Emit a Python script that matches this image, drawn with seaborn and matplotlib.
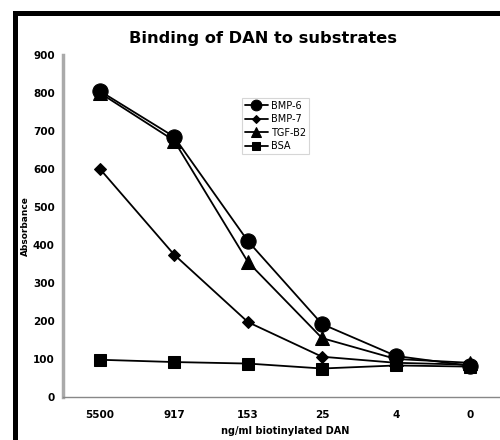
import matplotlib
matplotlib.use("Agg")
import matplotlib.pyplot as plt
import seaborn as sns
import pandas as pd
from matplotlib.patches import Rectangle

concentrations = ["5500", "917", "153", "25", "4", "0"]
bmp6 = [805, 685, 410, 192, 108, 82]
bmp7 = [600, 375, 197, 106, 90, 85]
tgfb2 = [800, 675, 355, 155, 100, 90]
bsa = [98, 92, 88, 75, 83, 80]
series_names = ["BMP-6", "BMP-7", "TGF-B2", "BSA"]
y_ticks = [0, 100, 200, 300, 400, 500, 600, 700, 800, 900]

rows = []
for name, vals in zip(series_names, [bmp6, bmp7, tgfb2, bsa]):
    for c, v in zip(concentrations, vals):
        rows.append({"conc": c, "value": v, "series": name})
df = pd.DataFrame(rows)

sns.set_style("white")
plt.rcParams['font.family'] = ['DejaVu Sans']
plt.rcParams['text.color'] = 'black'
plt.rcParams['axes.labelcolor'] = 'black'
plt.rcParams['xtick.color'] = 'black'
plt.rcParams['ytick.color'] = 'black'

fig = plt.figure(figsize=(5, 4.4), dpi=100)
ax = fig.add_axes([63/500, 1 - 397/440, (507-63)/500, (397-55)/440])

markers = {"BMP-6": "o", "BMP-7": "D", "TGF-B2": "^", "BSA": "s"}
sizes = {"BMP-6": 11, "BMP-7": 6, "TGF-B2": 10, "BSA": 9}
zorders = {"BMP-6": 6, "BMP-7": 4, "TGF-B2": 5, "BSA": 3}
for name in series_names:
    sub = df[df["series"] == name]
    sns.lineplot(data=sub, x="conc", y="value", ax=ax, color="black",
                 marker=markers[name], markersize=sizes[name], linewidth=1.3,
                 markeredgecolor="black", label=name, sort=False,
                 zorder=zorders[name])

ax.set_xlim(-0.5, 5.5)
ax.set_ylim(0, 900)
ax.set_yticks(y_ticks)
ax.set_yticklabels([str(t) for t in y_ticks], fontsize=7.5, fontweight="bold")
ax.set_xticks(range(len(concentrations)))
ax.set_xticklabels(concentrations, fontsize=7.5, fontweight="bold")
ax.tick_params(axis="x", length=0, pad=9)
ax.tick_params(axis="y", length=0, pad=6)
ax.set_xlabel("ng/ml biotinylated DAN", fontsize=7, fontweight="bold", labelpad=5)
ax.set_ylabel("Absorbance", fontsize=6.5, fontweight="bold", labelpad=2)

for s in ["top", "right"]:
    ax.spines[s].set_visible(False)
ax.spines["left"].set_color("#aaaaaa")
ax.spines["left"].set_linewidth(2.5)
ax.spines["bottom"].set_color("#888888")
ax.spines["bottom"].set_linewidth(1)
ax.spines["bottom"].set_linestyle((0, (1, 1)))

leg = ax.legend(loc="upper left", bbox_to_anchor=((237-63)/444, (397-93)/342),
                fontsize=7, frameon=True, handlelength=2.4, borderpad=0.3,
                labelspacing=0.35, handletextpad=0.3, markerscale=0.7)
leg.get_frame().set_edgecolor("#cccccc")
leg.get_frame().set_linewidth(0.8)
leg.get_frame().set_boxstyle("square", pad=0)
leg.set_zorder(10)
for t in leg.get_texts():
    t.set_color("black")

fig.text(263/500, 1 - 38/440, "Binding of DAN to substrates", ha="center", va="center",
         fontsize=11.7, fontweight="bold", color="black")

fig.patches.append(Rectangle((14.5/500, -0.1), 1.0, 1.1 - 13/440,
                             transform=fig.transFigure, fill=False,
                             edgecolor="black", linewidth=3.6, clip_on=False))

fig.savefig("out.png", dpi=100)
